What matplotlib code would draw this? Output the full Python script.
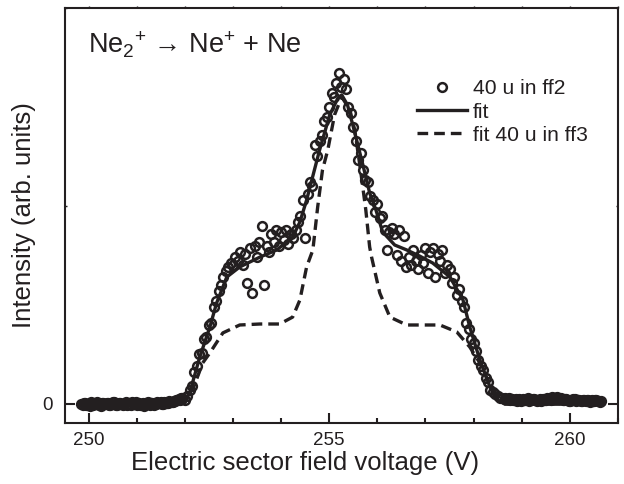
import matplotlib
matplotlib.use('Agg')
import matplotlib.pyplot as plt
from matplotlib.ticker import MultipleLocator, FixedLocator

plt.rcParams['font.family'] = ['Liberation Sans', 'DejaVu Sans']
plt.rcParams['mathtext.fontset'] = 'custom'
plt.rcParams['mathtext.rm'] = 'Liberation Sans'
plt.rcParams['mathtext.it'] = 'Liberation Sans:italic'
plt.rcParams['mathtext.bf'] = 'Liberation Sans:bold'

ink = '#231f20'

# measured points, 40 u in ff2 (voltage in V, intensity in arb. units)
volt = [
    249.85, 249.90, 249.95, 250.00, 250.05, 250.10, 250.15, 250.20, 250.25, 250.30,
    250.35, 250.40, 250.45, 250.50, 250.55, 250.60, 250.65, 250.70, 250.75, 250.80,
    250.85, 250.90, 250.95, 251.00, 251.05, 251.10, 251.15, 251.20, 251.25, 251.30,
    251.35, 251.40, 251.45, 251.50, 251.55, 251.60, 251.65, 251.70, 251.75, 251.80,
    251.85, 251.90, 251.95, 252.00, 252.05, 252.10, 252.15, 252.20, 252.25, 252.30,
    252.35, 252.40, 252.45, 252.50, 252.55, 252.60, 252.65, 252.70, 252.75, 252.80,
    252.85, 252.90, 252.95, 253.00, 253.05, 253.10, 253.15, 253.20, 253.25, 253.30,
    253.35, 253.40, 253.45, 253.50, 253.55, 253.60, 253.65, 253.70, 253.75, 253.80,
    253.85, 253.90, 253.95, 254.00, 254.05, 254.10, 254.15, 254.20, 254.25, 254.30,
    254.35, 254.40, 254.45, 254.50, 254.55, 254.60, 254.65, 254.70, 254.75, 254.80,
    254.85, 254.90, 254.95, 255.00, 255.05, 255.10, 255.15, 255.20, 255.25, 255.30,
    255.35, 255.40, 255.45, 255.50, 255.55, 255.60, 255.65, 255.70, 255.75, 255.80,
    255.85, 255.90, 255.95, 256.00, 256.05, 256.10, 256.15, 256.20, 256.25, 256.30,
    256.35, 256.40, 256.45, 256.50, 256.55, 256.60, 256.65, 256.70, 256.75, 256.80,
    256.85, 256.90, 256.95, 257.00, 257.05, 257.10, 257.15, 257.20, 257.25, 257.30,
    257.35, 257.40, 257.45, 257.50, 257.55, 257.60, 257.65, 257.70, 257.75, 257.80,
    257.85, 257.90, 257.95, 258.00, 258.05, 258.10, 258.15, 258.20, 258.25, 258.30,
    258.35, 258.40, 258.45, 258.50, 258.55, 258.60, 258.65, 258.70, 258.75, 258.80,
    258.85, 258.90, 258.95, 259.00, 259.05, 259.10, 259.15, 259.20, 259.25, 259.30,
    259.35, 259.40, 259.45, 259.50, 259.55, 259.60, 259.65, 259.70, 259.75, 259.80,
    259.85, 259.90, 259.95, 260.00, 260.05, 260.10, 260.15, 260.20, 260.25, 260.30,
    260.35, 260.40, 260.45, 260.50, 260.55, 260.60, 260.65,
]
base_left = [
    0.000, 0.005, -0.005, 0.000, 0.010, -0.005, 0.005, 0.000, -0.010, 0.005,
    0.000, 0.005, -0.005, 0.010, 0.000, -0.005, 0.005, 0.000, 0.005, -0.005,
    0.000, 0.010, 0.000, -0.005, 0.005, 0.000, -0.010, 0.005, 0.000, 0.005,
    -0.005, 0.000, 0.005, 0.010, 0.000, 0.005, 0.005, 0.010, 0.010, 0.015,
    0.020, 0.020, 0.030,
]
rise_left = [0.02, 0.04, 0.07, 0.09, 0.16, 0.19, 0.25, 0.26, 0.33, 0.34, 0.40,
             0.41, 0.49, 0.52, 0.57, 0.60, 0.64, 0.67, 0.69, 0.71, 0.70]
shoulder_left = [0.74, 0.72, 0.77, 0.70, 0.76, 0.61, 0.79, 0.56, 0.80, 0.74, 0.82, 0.90, 0.60,
                 0.80, 0.77, 0.86, 0.82, 0.88, 0.80, 0.87, 0.83, 0.88, 0.81, 0.86, 0.84, 0.88]
peak_up = [0.92, 0.95, 1.03, 0.84, 1.06, 1.12, 1.10, 1.31, 1.25, 1.33,
           1.36, 1.43, 1.45, 1.50, 1.57, 1.55, 1.62, 1.67, 1.60]
peak_down = [1.64, 1.59, 1.50, 1.47, 1.40, 1.33, 1.23, 1.27, 1.18, 1.13, 1.12,
             1.05, 1.03, 0.97, 1.01, 0.94, 0.95, 0.88, 0.78, 0.87, 0.89]
shoulder_right = [0.86, 0.75, 0.88, 0.72, 0.85, 0.69, 0.74, 0.70, 0.78, 0.72, 0.68, 0.75, 0.71, 0.79, 0.66,
                  0.77, 0.79, 0.64, 0.76, 0.72, 0.78, 0.66, 0.70, 0.68, 0.61, 0.64, 0.55, 0.58, 0.52]
fall_right = [0.49, 0.41, 0.38, 0.33, 0.31, 0.27, 0.22, 0.19, 0.17,
              0.13, 0.11, 0.07, 0.06, 0.05, 0.04, 0.03, 0.03, 0.03]
base_right = [
    0.025, 0.020, 0.025, 0.020, 0.015, 0.025, 0.020, 0.020, 0.025, 0.015,
    0.020, 0.025, 0.020, 0.020, 0.015, 0.025, 0.020, 0.025, 0.020, 0.025,
    0.030, 0.030, 0.025, 0.020, 0.025, 0.020, 0.015, 0.020, 0.025, 0.020,
    0.020, 0.015, 0.020, 0.020, 0.015, 0.020, 0.015, 0.020, 0.015, 0.015,
]
counts = (base_left + rise_left + shoulder_left + peak_up + peak_down
          + shoulder_right + fall_right + base_right)

# extra points in the dense baseline bands
extra_v = [
    249.875, 249.925, 249.975, 250.025, 250.075, 250.125, 250.175, 250.225, 250.275, 250.325,
    250.375, 250.425, 250.475, 250.525, 250.575, 250.625, 250.675, 250.725, 250.775, 250.825,
    250.875, 250.925, 250.975, 251.025, 251.075, 251.125, 251.175, 251.225, 251.275, 251.325,
    251.375, 251.425, 251.475, 251.525, 251.575, 251.625, 251.675, 251.725, 251.775, 251.825,
    251.875, 251.925,
    258.725, 258.775, 258.825, 258.875, 258.925, 258.975, 259.025, 259.075, 259.125, 259.175,
    259.225, 259.275, 259.325, 259.375, 259.425, 259.475, 259.525, 259.575, 259.625, 259.675,
    259.725, 259.775, 259.825, 259.875, 259.925, 259.975, 260.025, 260.075, 260.125, 260.175,
    260.225, 260.275, 260.325, 260.375, 260.425, 260.475, 260.525, 260.575, 260.625,
]
extra_i = [
    -0.005, 0.005, 0.000, -0.010, 0.005, 0.000, 0.010, -0.005, 0.005, 0.000,
    0.005, -0.005, 0.000, 0.010, -0.005, 0.005, 0.000, -0.005, 0.010, 0.000,
    -0.005, 0.005, 0.010, 0.000, -0.005, 0.005, 0.000, 0.010, -0.005, 0.005,
    0.000, 0.010, 0.005, 0.000, 0.010, 0.005, 0.015, 0.010, 0.015, 0.020,
    0.025, 0.030,
    0.030, 0.025, 0.020, 0.025, 0.020, 0.015, 0.025, 0.020, 0.030, 0.020,
    0.025, 0.020, 0.015, 0.025, 0.020, 0.020, 0.030, 0.025, 0.035, 0.030,
    0.035, 0.025, 0.030, 0.020, 0.025, 0.015, 0.020, 0.025, 0.015, 0.020,
    0.015, 0.020, 0.015, 0.020, 0.010, 0.015, 0.020, 0.015, 0.010,
]

# fit curve
fit_v = [249.80, 251.90, 252.00, 252.10, 252.31, 252.52, 252.66, 252.87, 253.14, 253.56,
         253.91, 254.24, 254.39, 254.53, 254.80, 255.01, 255.18, 255.26, 255.38, 255.49,
         255.70, 255.84, 255.97, 256.11, 256.36, 256.61, 256.88, 257.15, 257.51, 257.78,
         257.92, 258.13, 258.34, 258.50, 258.65, 260.70]
fit_i = [0, 0, 0.015, 0.056, 0.237, 0.389, 0.51, 0.641, 0.692, 0.742,
         0.778, 0.843, 0.919, 1.03, 1.283, 1.46, 1.545, 1.561, 1.51, 1.409,
         1.207, 1.066, 0.98, 0.869, 0.803, 0.778, 0.747, 0.712, 0.641, 0.525,
         0.389, 0.222, 0.086, 0.02, 0.0, 0.0]

# fit for 40 u in ff3
ff3_v = [249.80, 251.90, 252.00, 252.20, 252.37, 252.52, 252.79, 253.14, 253.56, 253.97,
         254.24, 254.39, 254.53, 254.66, 254.76, 254.86, 254.97, 255.11, 255.26, 255.43,
         255.53, 255.65, 255.76, 255.84, 255.88, 256.05, 256.26, 256.61, 257.30, 257.65,
         257.92, 258.13, 258.34, 258.50, 258.65, 260.70]
ff3_i = [0, 0, 0.005, 0.096, 0.207, 0.258, 0.359, 0.399, 0.404, 0.404,
         0.439, 0.525, 0.692, 0.778, 0.995, 1.182, 1.283, 1.46, 1.551, 1.485,
         1.384, 1.182, 0.98, 0.793, 0.742, 0.561, 0.439, 0.399, 0.399, 0.364,
         0.288, 0.207, 0.096, 0.02, 0.0, 0.0]

fig = plt.figure(figsize=(6.24, 4.84), dpi=100)
ax = fig.add_axes([65/624, 61/484, 553/624, 415/484])

ax.plot(volt, counts, 'o', ms=6.3, mfc='none', mec=ink, mew=1.8,
        label='40 u in ff2', zorder=2)
ax.plot(extra_v, extra_i, 'o', ms=6.3, mfc='none', mec=ink, mew=1.8, zorder=2)
ax.plot(fit_v, fit_i, '-', color=ink, lw=2.4, label='fit', zorder=3)
ax.plot(ff3_v, ff3_i, color=ink, lw=2.4, linestyle=(0, (3.2, 1.8)),
        label='fit 40 u in ff3', zorder=3)

ax.set_xlim(249.51, 261.0)
ax.set_ylim(-0.096, 2.0)

ax.set_xticks([250, 255, 260])
ax.xaxis.set_minor_locator(MultipleLocator(1))
ax.set_yticks([0])
ax.set_yticklabels(['0'])
ax.yaxis.set_minor_locator(FixedLocator([1, 2]))

ax.tick_params(axis='x', which='major', direction='in', length=7, width=1.5,
               labelsize=13.5, pad=6.5, colors=ink)
ax.tick_params(axis='x', which='minor', direction='in', length=3.5, width=1.5, colors=ink)
ax.tick_params(axis='y', which='major', direction='in', length=7, width=1.5,
               right=True, labelsize=13.5, pad=9, colors=ink)
ax.tick_params(axis='y', which='minor', direction='in', length=1.5, width=1, right=True,
               colors=ink)

top = ax.secondary_xaxis('top')
top.set_xticks(list(range(250, 262)))
top.tick_params(direction='out', length=1.5, width=1, labeltop=False, colors=ink)
top.spines['top'].set_visible(False)

for s in ax.spines.values():
    s.set_linewidth(1.5)
    s.set_color(ink)

ax.set_xlabel('Electric sector field voltage (V)', fontsize=18.5, color=ink)
ax.xaxis.set_label_coords(0.434, -0.068)
ax.set_ylabel('Intensity (arb. units)', fontsize=18.5, color=ink)
ax.yaxis.set_label_coords(-0.052, 0.5)

ax.text(0.042, 0.891, '$\\mathrm{{Ne_2}^{+}}$ \u2192 $\\mathrm{Ne^{+}}$ + Ne',
        transform=ax.transAxes, fontsize=19.5, color=ink, va='baseline', ha='left')

ax.legend(loc='upper left', bbox_to_anchor=(0.6365, 0.828), frameon=False,
          fontsize=15.2, handlelength=2.37, handletextpad=0.27, labelspacing=0.2,
          borderpad=0, borderaxespad=0, labelcolor=ink)

fig.savefig('out.png', dpi=100)
